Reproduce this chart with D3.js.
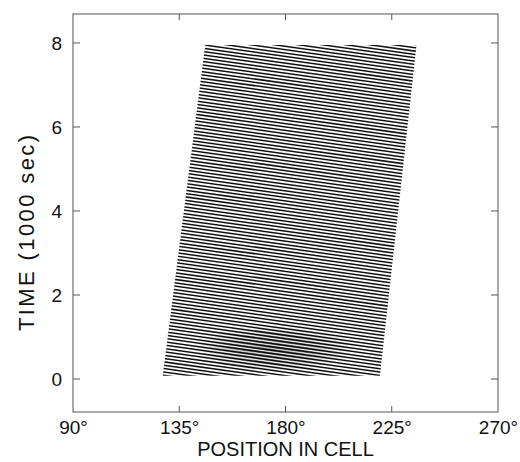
<!DOCTYPE html>
<html>
<head>
<meta charset="utf-8">
<script src="https://cdn.jsdelivr.net/npm/d3@7"></script>
<style>
  html, body { margin: 0; padding: 0; background: #fff; }
  svg { display: block; }
  text { font-family: "Liberation Sans", Arial, Helvetica, sans-serif; fill: #111; }
</style>
</head>
<body>
<svg id="chart" width="520" height="462"></svg>
<script>
// ---- data ----
const xTickValues = [90, 135, 180, 225, 270];
const xTickLabels = ["90°", "135°", "180°", "225°", "270°"];
const yTickValues = [0, 2, 4, 6, 8];
const yTickLabels = ["0", "2", "4", "6", "8"];
// time (1000 s) at which each trace crosses 180°
const traceTimes = [
  -0.32,-0.24,-0.16,-0.08,0.00,0.08,0.16,0.24,0.32,0.40,
  0.48,0.56,0.64,0.72,0.80,0.88,0.96,1.04,1.12,1.20,
  1.28,1.36,1.44,1.52,1.60,1.68,1.76,1.84,1.92,2.00,
  2.08,2.16,2.24,2.32,2.40,2.48,2.56,2.64,2.72,2.80,
  2.88,2.96,3.04,3.12,3.20,3.28,3.36,3.44,3.52,3.60,
  3.68,3.76,3.84,3.92,4.00,4.08,4.16,4.24,4.32,4.40,
  4.48,4.56,4.64,4.72,4.80,4.88,4.96,5.04,5.12,5.20,
  5.28,5.36,5.44,5.52,5.60,5.68,5.76,5.84,5.92,6.00,
  6.08,6.16,6.24,6.32,6.40,6.48,6.56,6.64,6.72,6.80,
  6.88,6.96,7.04,7.12,7.20,7.28,7.36,7.44,7.52,7.60,
  7.68,7.76,7.84,7.92,8.00,8.08,8.16,8.24,8.32,8.40
];
// time drop per degree along each trace
const traceDropPerDeg = 0.0079;
// envelope of the traced region: bottom and top edges
const envelopeTimes = [0.08, 7.95];
const envelopeLeftDeg = [128, 146];
const envelopeRightDeg = [220, 235.5];
// denser (darker) patch near the start: centre [deg, time] and half-sizes
const densePatchCenter = [175, 0.72];
const densePatchHalf = [34, 0.55];

// ---- layout ----
const svg = d3.select("#chart");
const L = 73, R = 498, T = 14, B = 412;
const x = d3.scaleLinear().domain([90, 270]).range([L, R]);
const y = d3.scaleLinear().domain([-0.786, 8.69]).range([B, T]);

// clip regions
const poly = [
  [envelopeLeftDeg[0], envelopeTimes[0]],
  [envelopeRightDeg[0], envelopeTimes[0]],
  [envelopeRightDeg[1], envelopeTimes[1]],
  [envelopeLeftDeg[1], envelopeTimes[1]]
];
const defs = svg.append("defs");
defs.append("clipPath").attr("id", "env")
  .append("path")
  .attr("d", d3.line().x(d => x(d[0])).y(d => y(d[1]))(poly) + "Z");
const grad = defs.append("radialGradient").attr("id", "denseGrad");
grad.append("stop").attr("offset", "0%").attr("stop-color", "#fff").attr("stop-opacity", 1);
grad.append("stop").attr("offset", "55%").attr("stop-color", "#fff").attr("stop-opacity", 0.6);
grad.append("stop").attr("offset", "100%").attr("stop-color", "#fff").attr("stop-opacity", 0);
const cxp = x(densePatchCenter[0]), cyp = y(densePatchCenter[1]);
const rxp = x(densePatchCenter[0] + densePatchHalf[0]) - cxp;
const ryp = cyp - y(densePatchCenter[1] + densePatchHalf[1]);
defs.append("mask").attr("id", "dense").attr("maskUnits", "userSpaceOnUse")
  .attr("x", 0).attr("y", 0).attr("width", 520).attr("height", 462)
  .append("ellipse")
  .attr("cx", cxp).attr("cy", cyp).attr("rx", rxp).attr("ry", ryp)
  .attr("fill", "url(#denseGrad)");

const traceLine = d3.line().x(d => x(d[0])).y(d => y(d[1]));
const traceD = t0 => traceLine([[90, t0 + traceDropPerDeg * 90], [270, t0 - traceDropPerDeg * 90]]);
const gTr = svg.append("g").attr("clip-path", "url(#env)");
gTr.selectAll("path.tr").data(traceTimes).join("path").attr("class", "tr")
  .attr("d", traceD)
  .attr("fill", "none")
  .attr("stroke", "#111")
  .attr("stroke-width", 1.5);
gTr.append("g").attr("mask", "url(#dense)")
  .selectAll("path.dn").data(traceTimes).join("path").attr("class", "dn")
  .attr("d", traceD)
  .attr("fill", "none")
  .attr("stroke", "#000")
  .attr("stroke-opacity", 0.55)
  .attr("stroke-width", 2.6);

// frame
svg.append("rect").attr("x", L).attr("y", T).attr("width", R - L).attr("height", B - T)
  .attr("fill", "none").attr("stroke", "#555").attr("stroke-width", 1);

// axes
const fontFam = "Liberation Sans, Arial, sans-serif";
const xAxis = d3.axisBottom(x).tickValues(xTickValues).tickSize(0).tickPadding(9)
  .tickFormat((d, i) => xTickLabels[i]);
const gx = svg.append("g").attr("transform", `translate(0,${B})`).call(xAxis);
gx.select(".domain").remove();
gx.selectAll("text").attr("font-size", 19).attr("fill", "#111").attr("font-family", fontFam);

const yAxis = d3.axisLeft(y).tickValues(yTickValues).tickSize(0).tickPadding(11)
  .tickFormat((d, i) => yTickLabels[i]);
const gy = svg.append("g").attr("transform", `translate(${L},0)`).call(yAxis);
gy.select(".domain").remove();
gy.selectAll("text").attr("font-size", 19).attr("fill", "#111").attr("font-family", fontFam);

// inward tick marks
const tk = svg.append("g").attr("stroke", "#555").attr("stroke-width", 1);
xTickValues.slice(1, -1).forEach(v => {
  tk.append("line").attr("x1", x(v)).attr("x2", x(v)).attr("y1", B).attr("y2", B - 6);
  tk.append("line").attr("x1", x(v)).attr("x2", x(v)).attr("y1", T).attr("y2", T + 6);
});
yTickValues.forEach(v => {
  tk.append("line").attr("x1", L).attr("x2", L + 7).attr("y1", y(v)).attr("y2", y(v));
  tk.append("line").attr("x1", R).attr("x2", R - 7).attr("y1", y(v)).attr("y2", y(v));
});

// titles
svg.append("text").attr("x", (L + R) / 2).attr("y", 456).attr("text-anchor", "middle")
  .attr("font-size", 20).text("POSITION IN CELL");
svg.append("text").attr("transform", `translate(34,233) rotate(-90)`).attr("text-anchor", "middle")
  .attr("font-size", 22).attr("textLength", 196).attr("lengthAdjust", "spacing")
  .text("TIME (1000 sec)");
</script>
</body>
</html>
